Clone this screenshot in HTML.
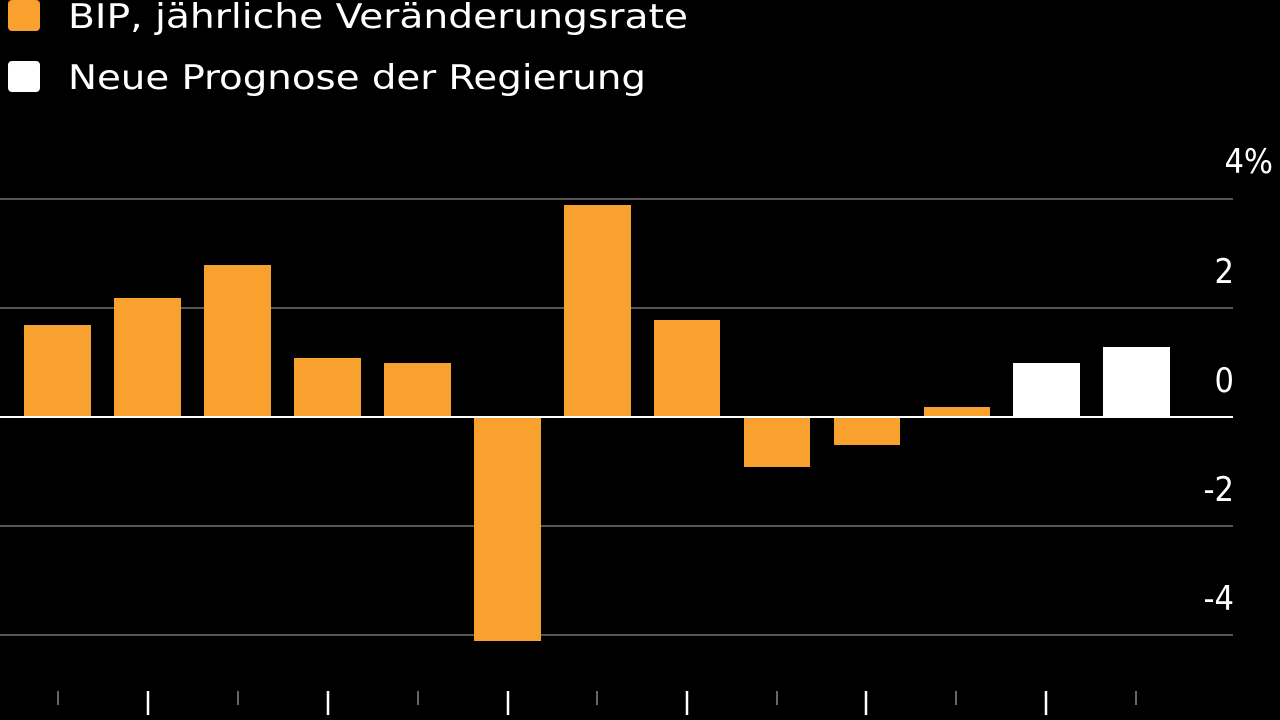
<!DOCTYPE html>
<html><head><meta charset="utf-8"><style>
html,body{margin:0;padding:0;background:#000;width:1280px;height:720px;overflow:hidden}
svg{display:block}
text{font-family:"DejaVu Sans Condensed","DejaVu Sans","Liberation Sans",sans-serif;fill:#fff}
</style></head><body>
<svg width="1280" height="720" viewBox="0 0 1280 720">
<rect x="0" y="0" width="1280" height="720" fill="#000"/>
<rect x="8" y="0" width="32" height="31" rx="4" fill="#f9a12e"/>
<text x="68" y="28" font-size="34" textLength="620" lengthAdjust="spacingAndGlyphs">BIP, jährliche Veränderungsrate</text>
<rect x="8" y="61" width="32" height="31" rx="4" fill="#fff"/>
<text x="68" y="89" font-size="34" textLength="578" lengthAdjust="spacingAndGlyphs">Neue Prognose der Regierung</text>
<g stroke="#555" stroke-width="2">
<line x1="0" y1="199" x2="1233" y2="199"/>
<line x1="0" y1="308" x2="1233" y2="308"/>
<line x1="0" y1="526" x2="1233" y2="526"/>
<line x1="0" y1="635" x2="1233" y2="635"/>
</g>
<g font-size="34" text-anchor="end">
<text x="1273" y="173">4%</text>
<text x="1234" y="283">2</text>
<text x="1234" y="392">0</text>
<text x="1234" y="501">-2</text>
<text x="1234" y="610">-4</text>
</g>
<g fill="#f9a12e">
<rect x="24" y="325" width="67" height="92"/>
<rect x="114" y="298" width="67" height="119"/>
<rect x="204" y="265" width="67" height="152"/>
<rect x="294" y="358" width="67" height="59"/>
<rect x="384" y="363" width="67" height="54"/>
<rect x="474" y="417" width="67" height="224"/>
<rect x="564" y="205" width="67" height="212"/>
<rect x="654" y="320" width="66" height="97"/>
<rect x="744" y="417" width="66" height="50"/>
<rect x="834" y="417" width="66" height="28"/>
<rect x="924" y="407" width="66" height="10"/>
</g>
<g fill="#fff">
<rect x="1013" y="363" width="67" height="54"/>
<rect x="1103" y="347" width="67" height="70"/>
</g>
<line x1="0" y1="417" x2="1233" y2="417" stroke="#fff" stroke-width="2"/>
<g stroke="#666" stroke-width="2">
<line x1="58" y1="691" x2="58" y2="705"/>
<line x1="238" y1="691" x2="238" y2="705"/>
<line x1="418" y1="691" x2="418" y2="705"/>
<line x1="597" y1="691" x2="597" y2="705"/>
<line x1="777" y1="691" x2="777" y2="705"/>
<line x1="956" y1="691" x2="956" y2="705"/>
<line x1="1136" y1="691" x2="1136" y2="705"/>
</g>
<g stroke="#fff" stroke-width="2.5">
<line x1="148" y1="691" x2="148" y2="715"/>
<line x1="328" y1="691" x2="328" y2="715"/>
<line x1="508" y1="691" x2="508" y2="715"/>
<line x1="687" y1="691" x2="687" y2="715"/>
<line x1="866" y1="691" x2="866" y2="715"/>
<line x1="1046" y1="691" x2="1046" y2="715"/>
</g>
</svg>
</body></html>
